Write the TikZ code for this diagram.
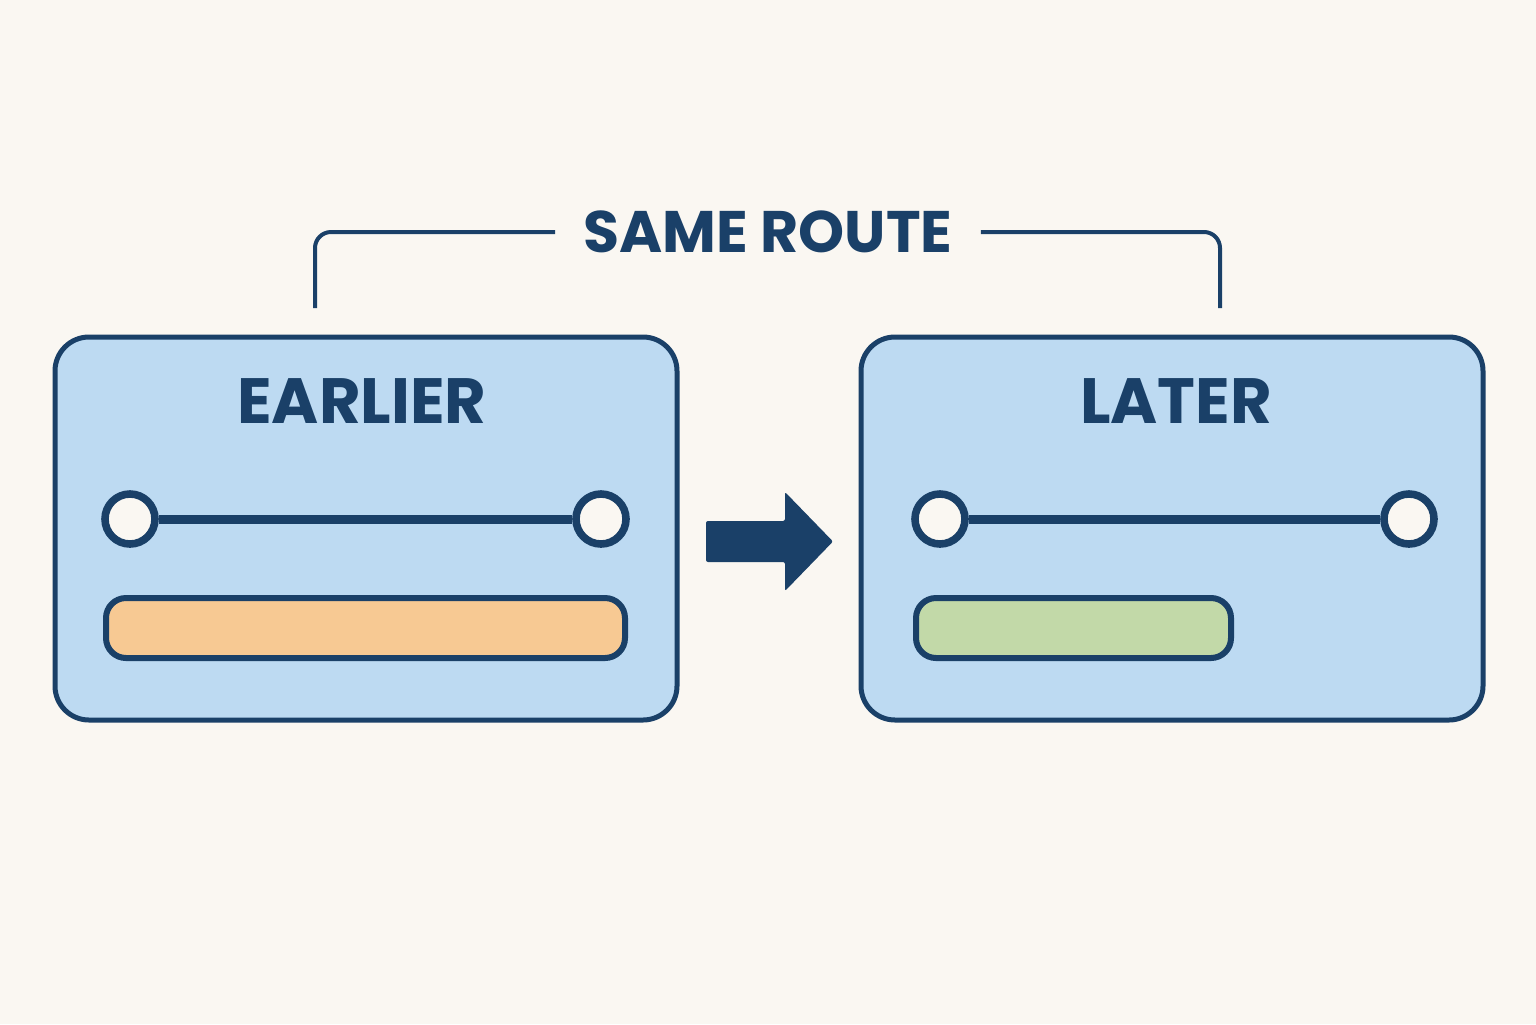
\documentclass[tikz,border=0pt]{standalone}
\usepackage{fontspec}
\setmainfont{Poppins}
\usepackage{xcolor}
\usetikzlibrary{calc}
\definecolor{navy}{HTML}{1A4068}
\definecolor{paper}{HTML}{FAF7F2}
\definecolor{boxblue}{HTML}{BDDAF2}
\definecolor{barorange}{HTML}{F7C993}
\definecolor{bargreen}{HTML}{C2D9A8}

\begin{document}
\begin{tikzpicture}
[x=0.5pt,y=-0.5pt,line join=round,
 panel/.style={draw=navy,fill=boxblue,line width=2.5pt,rounded corners=17pt,minimum width=311pt,minimum height=191.5pt,inner sep=0pt},
 title/.style={text=navy,font=\bfseries\fontsize{32}{36}\selectfont,inner sep=0pt},
 stop/.style={circle,draw=navy,fill=paper,line width=3.8pt,minimum size=25pt,inner sep=0pt},
 track/.style={draw=navy,line width=4.5pt},
 bar/.style={draw=navy,line width=3pt,rounded corners=10pt,minimum height=30pt,inner sep=0pt},
 bracket/.style={draw=navy,line width=2pt,rounded corners=8pt}]

\fill[paper] (0,0) rectangle (1536,1024); %background

\node[panel] (earlier) at (366,528.5) {};
\node[panel] (later) at (1172,528.5) {};
\node[title] (earlierlbl) at (362,401) {EARLIER};
\node[title] (laterlbl) at (1176,401) {LATER};

\node[stop] (ea) at (130,519) {};
\node[stop] (eb) at (601,519) {};
\draw[track] (ea) -- (eb);
\node[bar,fill=barorange,minimum width=259.5pt] (ebar) at (365.5,628) {};

\node[stop] (la) at (940,519) {};
\node[stop] (lb) at (1409,519) {};
\draw[track] (la) -- (lb);
\node[bar,fill=bargreen,minimum width=157.5pt] (lbar) at (1073.5,628) {};

\fill[navy,rounded corners=1pt] (706,521) -- (785,521) -- (785,492) -- (833,541.5)
  -- (785,591) -- (785,562) -- (706,562) -- cycle; %arrow

\node[title,font=\bfseries\fontsize{29.3}{34}\selectfont,inner xsep=14pt] (routelbl) at (768,232) {SAME ROUTE};
\coordinate (lfoot) at (315,308);
\coordinate (rfoot) at (1220,308);
\draw[bracket] (lfoot) |- (routelbl.west);
\draw[bracket] (routelbl.east) -| (rfoot);
\end{tikzpicture}
\end{document}
